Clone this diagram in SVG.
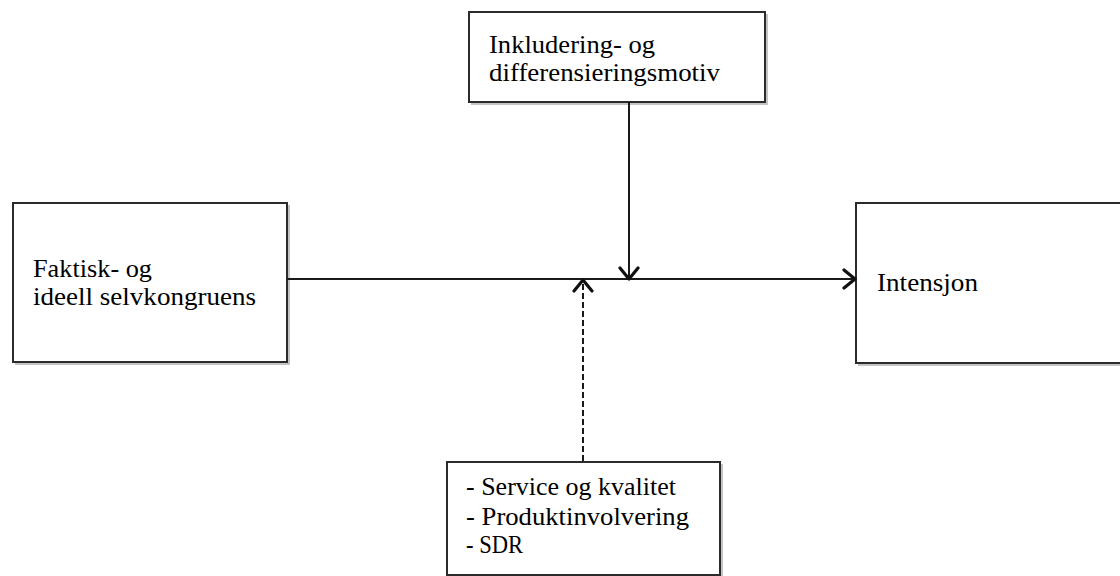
<svg xmlns="http://www.w3.org/2000/svg" width="1120" height="576" viewBox="0 0 1120 576">
  <defs>
    <style>
      .box { fill: #ffffff; stroke: #2b2b2b; stroke-width: 2; }
      .shadow { fill: none; stroke: #c4c4c4; stroke-width: 2; }
      .lbl { font-family: "Liberation Serif", "DejaVu Serif", serif; font-size: 26px; fill: #000000; }
      .conn { fill: none; stroke: #1a1a1a; stroke-width: 2; }
      .dash { stroke-dasharray: 6 3; }
    </style>
    <marker id="arr" markerUnits="userSpaceOnUse" markerWidth="26" markerHeight="26" refX="14" refY="11" orient="auto">
      <path d="M3,2 L14,11 L3,20" fill="none" stroke="#111111" stroke-width="3.2" stroke-linecap="round" stroke-linejoin="round"/>
    </marker>
  </defs>
  <rect width="1120" height="576" fill="#ffffff"/>

  <g id="node-motiv">
    <path class="shadow" d="M471,104 H767 V14"/>
    <rect class="box" x="469" y="12" width="296" height="90"/>
    <text class="lbl" x="489" y="53" textLength="166" lengthAdjust="spacingAndGlyphs">Inkludering- og</text>
    <text class="lbl" x="489" y="81" textLength="231" lengthAdjust="spacingAndGlyphs">differensieringsmotiv</text>
  </g>

  <g id="node-kongruens">
    <path class="shadow" d="M15,364 H289 V205"/>
    <rect class="box" x="13" y="203" width="274" height="159"/>
    <text class="lbl" x="33" y="277" textLength="119" lengthAdjust="spacingAndGlyphs">Faktisk- og</text>
    <text class="lbl" x="33" y="305" textLength="223" lengthAdjust="spacingAndGlyphs">ideell selvkongruens</text>
  </g>

  <g id="node-intensjon">
    <path class="shadow" d="M858,365 H1122"/>
    <rect class="box" x="856" y="203" width="270" height="160"/>
    <text class="lbl" x="877" y="291" textLength="101" lengthAdjust="spacingAndGlyphs">Intensjon</text>
  </g>

  <g id="node-moderatorer">
    <path class="shadow" d="M722,464 V580"/>
    <rect class="box" x="447" y="462" width="273" height="113"/>
    <text class="lbl" x="466" y="495" textLength="210" lengthAdjust="spacingAndGlyphs">- Service og kvalitet</text>
    <text class="lbl" x="466" y="525" textLength="223" lengthAdjust="spacingAndGlyphs">- Produktinvolvering</text>
    <text class="lbl" x="466" y="553" textLength="57" lengthAdjust="spacingAndGlyphs">- SDR</text>
  </g>

  <g id="connectors">
    <line class="conn" x1="287" y1="279" x2="855" y2="279" marker-end="url(#arr)"/>
    <line class="conn" x1="629" y1="102" x2="629" y2="279" marker-end="url(#arr)"/>
    <line class="conn dash" x1="583" y1="461" x2="583" y2="280" marker-end="url(#arr)"/>
  </g>
</svg>
